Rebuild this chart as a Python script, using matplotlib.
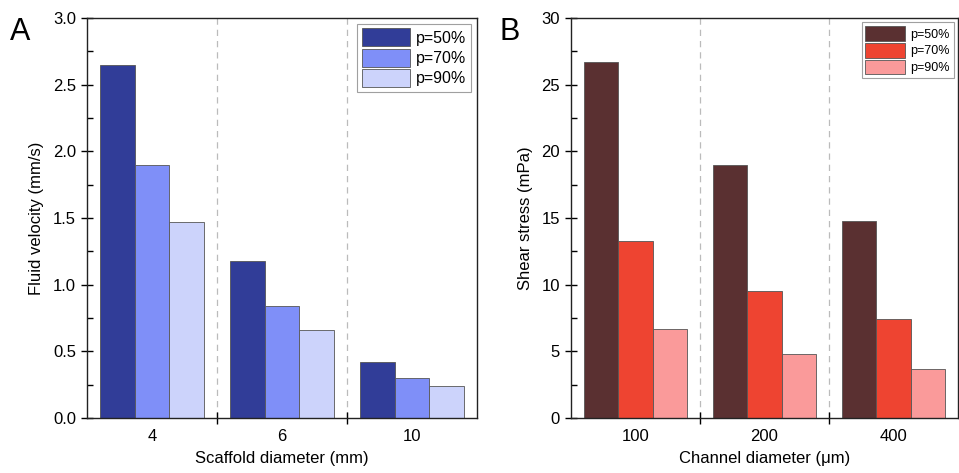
import matplotlib.pyplot as plt
from matplotlib.ticker import MultipleLocator, AutoMinorLocator
import numpy as np

plt.rcParams['font.family'] = ['Liberation Sans', 'DejaVu Sans']

# panel A data
scaffold = ['4', '6', '10']
vel_50 = [2.65, 1.18, 0.42]
vel_70 = [1.90, 0.84, 0.30]
vel_90 = [1.47, 0.66, 0.24]

# panel B data
channel = ['100', '200', '400']
shear_50 = [26.7, 19.0, 14.8]
shear_70 = [13.3, 9.5, 7.4]
shear_90 = [6.7, 4.8, 3.7]

labels = ['p=50%', 'p=70%', 'p=90%']
blues = ['#313d98', '#7f8ff8', '#ccd3fb']
reds = ['#5a3031', '#ee4431', '#fa9a9a']

fig = plt.figure(figsize=(9.59, 4.73), dpi=100)
axA = fig.add_axes([87/959, 55/473, 390/959, 400/473])
axB = fig.add_axes([571/959, 55/473, 387/959, 400/473])

w = 0.267


def panel(ax, cats, series, colors, ymax, major, ylabel, xlabel, legsize, hsize):
    x = np.arange(len(cats))
    for i, vals in enumerate(series):
        ax.bar(x + (i - 1) * w, vals, w, color=colors[i], edgecolor='#555555',
               linewidth=0.6, label=labels[i], zorder=2)
    ax.set_xlim(-0.5, len(cats) - 0.5)
    ax.set_ylim(0, ymax)
    ax.yaxis.set_major_locator(MultipleLocator(major))
    ax.yaxis.set_minor_locator(AutoMinorLocator(2))
    # group separators
    for b in np.arange(0.5, len(cats) - 0.5, 1):
        ax.axvline(b, color='#bbbbbb', linestyle=(0, (5, 4)), linewidth=0.9, zorder=1)
    ax.set_xticks(np.arange(0.5, len(cats) - 0.5, 1))
    ax.set_xticklabels([])
    ax.set_xticks(x, minor=True)
    ax.set_xticklabels(cats, minor=True)
    ax.tick_params(axis='x', which='major', direction='inout', length=9, width=1)
    ax.tick_params(axis='x', which='minor', length=0, labelsize=12, pad=8)
    ax.tick_params(axis='y', which='major', direction='inout', length=9, width=1, labelsize=12)
    ax.tick_params(axis='y', which='minor', direction='in', length=4, width=1)
    ax.tick_params(top=False, right=False)
    for s in ax.spines.values():
        s.set_linewidth(1.0)
        s.set_color('#222222')
    ax.set_ylabel(ylabel, fontsize=12, labelpad=6)
    ax.set_xlabel(xlabel, fontsize=12, labelpad=5)
    leg = ax.legend(loc='upper right', fontsize=legsize, frameon=True, fancybox=False,
                    edgecolor='#888888', borderpad=0.3, labelspacing=0.15,
                    handlelength=hsize[0], handleheight=hsize[1],
                    handletextpad=0.4, borderaxespad=0.35)
    leg.get_frame().set_linewidth(0.8)


panel(axA, scaffold, [vel_50, vel_70, vel_90], blues, 3.0, 0.5,
      'Fluid velocity (mm/s)', 'Scaffold diameter (mm)', 11.5, (3.0, 1.35))
axA.yaxis.set_major_formatter(plt.FormatStrFormatter('%.1f'))
panel(axB, channel, [shear_50, shear_70, shear_90], reds, 30, 5,
      'Shear stress (mPa)', 'Channel diameter (μm)', 9.0, (3.2, 1.45))

fig.text(10/959, 1 - 32/473, 'A', fontsize=22, va='center')
fig.text(500/959, 1 - 32/473, 'B', fontsize=22, va='center')

fig.savefig('out.png', dpi=100)
